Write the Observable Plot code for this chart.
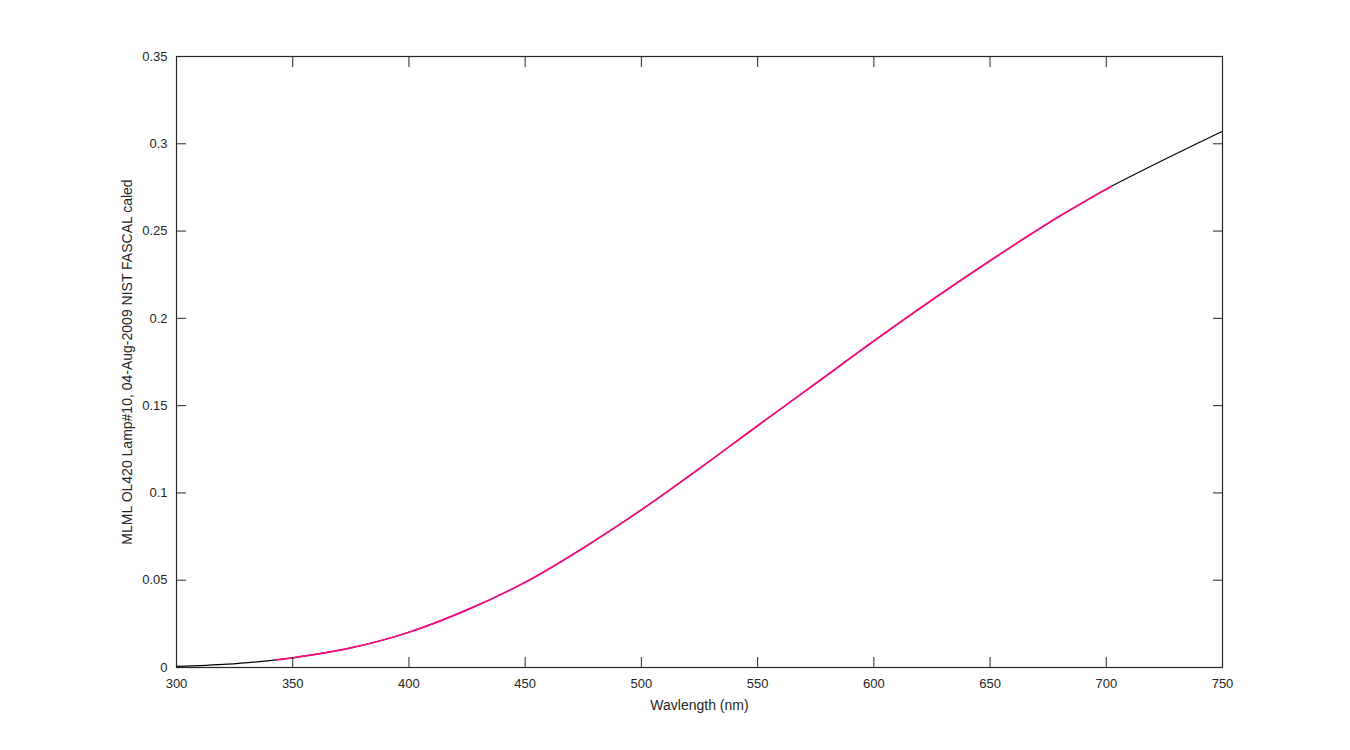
<!DOCTYPE html>
<html>
<head>
<meta charset="utf-8">
<script src="https://cdn.jsdelivr.net/npm/d3@7"></script>
<script src="https://cdn.jsdelivr.net/npm/@observablehq/plot@0.6"></script>
<style>
  html, body { margin: 0; padding: 0; background: #fff; }
  #chart { width: 1350px; height: 750px; }
</style>
</head>
<body>
<div id="chart"></div>
<script>
// Full calibrated curve (black)
const wavelength = [300, 322, 343, 350, 375, 400, 425, 450, 475, 500, 525, 550, 575, 600, 625, 650, 675, 700, 702, 725, 750];
const irradiance = [0.0006, 0.0019, 0.0044, 0.0055, 0.0112, 0.0202, 0.0330, 0.0488, 0.0685, 0.0903, 0.1140, 0.1385, 0.1627, 0.1870, 0.2105, 0.2330, 0.2545, 0.2740, 0.2755, 0.2910, 0.3072];
// Highlighted range (magenta)
const wavelengthHi = [343, 350, 375, 400, 425, 450, 475, 500, 525, 550, 575, 600, 625, 650, 675, 700, 702];
const irradianceHi = [0.0044, 0.0055, 0.0112, 0.0202, 0.0330, 0.0488, 0.0685, 0.0903, 0.1140, 0.1385, 0.1627, 0.1870, 0.2105, 0.2330, 0.2545, 0.2740, 0.2755];

const xTicks = [300, 350, 400, 450, 500, 550, 600, 650, 700, 750];
const yTicks = [0, 0.05, 0.1, 0.15, 0.2, 0.25, 0.3, 0.35];
const xLabel = "Wavlength (nm)";
const yLabel = "MLML OL420 Lamp#10, 04-Aug-2009 NIST FASCAL caled";

const full = wavelength.map((w, i) => ({w, v: irradiance[i]}));
const hi = wavelengthHi.map((w, i) => ({w, v: irradianceHi[i]}));

const axisColor = "#262626";
const font = "'Liberation Sans', Arial, Helvetica, sans-serif";

const chart = Plot.plot({
  width: 1350,
  height: 750,
  marginLeft: 176,
  marginRight: 128,
  marginTop: 56,
  marginBottom: 83,
  style: {fontFamily: font, fontSize: "13px", color: axisColor, background: "#fff"},
  x: {domain: [300, 750]},
  y: {domain: [0, 0.35]},
  marks: [
    Plot.line(full, {x: "w", y: "v", stroke: "#000000", strokeWidth: 1.2, curve: "catmull-rom"}),
    Plot.line(hi, {x: "w", y: "v", stroke: "#ff0a80", strokeWidth: 1.7, curve: "catmull-rom"}),
    Plot.frame({stroke: axisColor, strokeWidth: 1.2}),
    // inward ticks on all four sides
    Plot.axisX(xTicks, {anchor: "bottom", tickSize: -10, text: null, label: null, stroke: axisColor}),
    Plot.axisX(xTicks, {anchor: "top", tickSize: -10, text: null, label: null, stroke: axisColor}),
    Plot.axisY(yTicks, {anchor: "left", tickSize: -10, text: null, label: null, stroke: axisColor}),
    Plot.axisY(yTicks, {anchor: "right", tickSize: -10, text: null, label: null, stroke: axisColor}),
    // tick labels
    Plot.axisX(xTicks, {anchor: "bottom", tickSize: 0, tickPadding: 11, label: null, fill: axisColor, fontSize: 13}),
    Plot.axisY(yTicks, {anchor: "left", tickSize: 0, tickPadding: 9, label: null, fill: axisColor, fontSize: 13,
      tickFormat: d => d === 0 ? "0" : String(d)}),
    // axis titles
    Plot.text([xLabel], {text: d => d, frameAnchor: "bottom", dy: 42, fill: axisColor, fontSize: 14}),
    Plot.text([yLabel], {text: d => d, frameAnchor: "left", textAnchor: "middle", rotate: -90, dx: -49, fill: axisColor, fontSize: 14})
  ]
});
document.getElementById("chart").appendChild(chart);
</script>
</body>
</html>
